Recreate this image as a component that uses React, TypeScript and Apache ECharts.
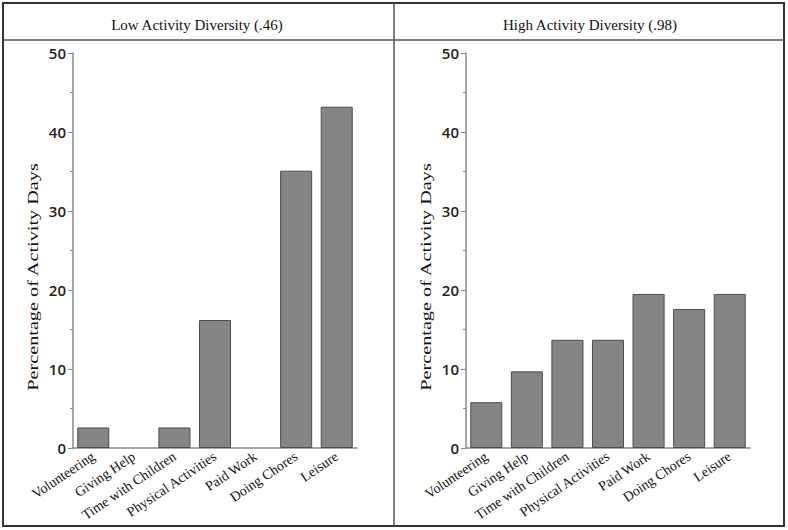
import React, { useEffect, useRef } from "react";
import * as echarts from "echarts";

const categories = [
  "Volunteering",
  "Giving Help",
  "Time with Children",
  "Physical Activities",
  "Paid Work",
  "Doing Chores",
  "Leisure",
];
const lowDiversity = [2.6, 0, 2.6, 16.2, 0, 35.1, 43.2];
const highDiversity = [5.8, 9.7, 13.7, 13.7, 19.5, 17.6, 19.5];
const panelTitles = ["Low Activity Diversity (.46)", "High Activity Diversity (.98)"];
const yAxisName = "Percentage of Activity Days";
const yMin = 0;
const yMax = 50;
const yInterval = 10;

const serif = "'Liberation Serif', 'Times New Roman', serif";
const sans = "'Open Sans', 'DejaVu Sans', sans-serif";

export default function App() {
  const ref = useRef<HTMLDivElement>(null);
  useEffect(() => {
    document.body.style.margin = "0";
    const chart = echarts.init(ref.current!, null, { renderer: "svg" });
    const yAxis = (gi: number) => ({
      type: "value",
      gridIndex: gi,
      min: yMin,
      max: yMax,
      interval: yInterval,
      axisLine: { show: true, lineStyle: { color: "#8a8a8a", width: 1.5 } },
      axisTick: { show: true, length: 5, lineStyle: { color: "#8a8a8a" } },
      minorTick: { show: true, splitNumber: 2, length: 3, lineStyle: { color: "#8a8a8a" } },
      splitLine: { show: false },
      axisLabel: { color: "#222", fontFamily: sans, fontSize: 15, fontWeight: 600, margin: 7 },
    });
    const xAxis = (gi: number) => ({
      type: "category",
      gridIndex: gi,
      data: categories,
      axisLine: { show: true, lineStyle: { color: "#8a8a8a", width: 1.5 } },
      axisTick: { show: false },
      axisLabel: {
        interval: 0,
        rotate: 34,
        color: "#111",
        fontFamily: serif,
        fontSize: 14,
        margin: 7,
      },
    });
    const barSeries = (gi: number, data: number[]) => ({
      type: "bar",
      xAxisIndex: gi,
      yAxisIndex: gi,
      data: data.map((v) => (v === 0 ? { value: v, itemStyle: { borderWidth: 0 } } : v)),
      barCategoryGap: "21%",
      itemStyle: { color: "#858585", borderColor: "#4d4d4d", borderWidth: 1 },
    });
    const yName = (x: number) => ({
      type: "text",
      x,
      y: 277,
      rotation: Math.PI / 2,
      scaleX: 1.35,
      scaleY: 0.95,
      style: {
        text: yAxisName,
        fontFamily: serif,
        fontSize: 15,
        fill: "#111",
        align: "center",
        verticalAlign: "middle",
      },
    });
    const title = (x: number, text: string) => ({
      type: "text",
      x,
      y: 25,
      style: {
        text,
        fontFamily: serif,
        fontSize: 15,
        fill: "#111",
        align: "center",
        verticalAlign: "middle",
      },
    });
    chart.setOption({
      animation: false,
      backgroundColor: "#fff",
      grid: [
        { left: 73, top: 53, width: 284, height: 395, outerBoundsMode: "none", containLabel: false },
        { left: 466, top: 53, width: 284, height: 395, outerBoundsMode: "none", containLabel: false },
      ],
      xAxis: [xAxis(0), xAxis(1)],
      yAxis: [yAxis(0), yAxis(1)],
      series: [barSeries(0, lowDiversity), barSeries(1, highDiversity)],
      graphic: [
        {
          type: "rect",
          shape: { x: 3, y: 3, width: 781, height: 523 },
          style: { fill: "none", stroke: "#333", lineWidth: 2 },
          silent: true,
        },
        {
          type: "line",
          shape: { x1: 3, y1: 40, x2: 784, y2: 40 },
          style: { stroke: "#555", lineWidth: 1.5 },
        },
        {
          type: "line",
          shape: { x1: 394, y1: 3, x2: 394, y2: 526 },
          style: { stroke: "#555", lineWidth: 1.5 },
        },
        title(197, panelTitles[0]),
        title(590, panelTitles[1]),
        yName(33),
        yName(426),
      ],
    });
    return () => chart.dispose();
  }, []);
  return <div ref={ref} style={{ width: 788, height: 530 }} />;
}
